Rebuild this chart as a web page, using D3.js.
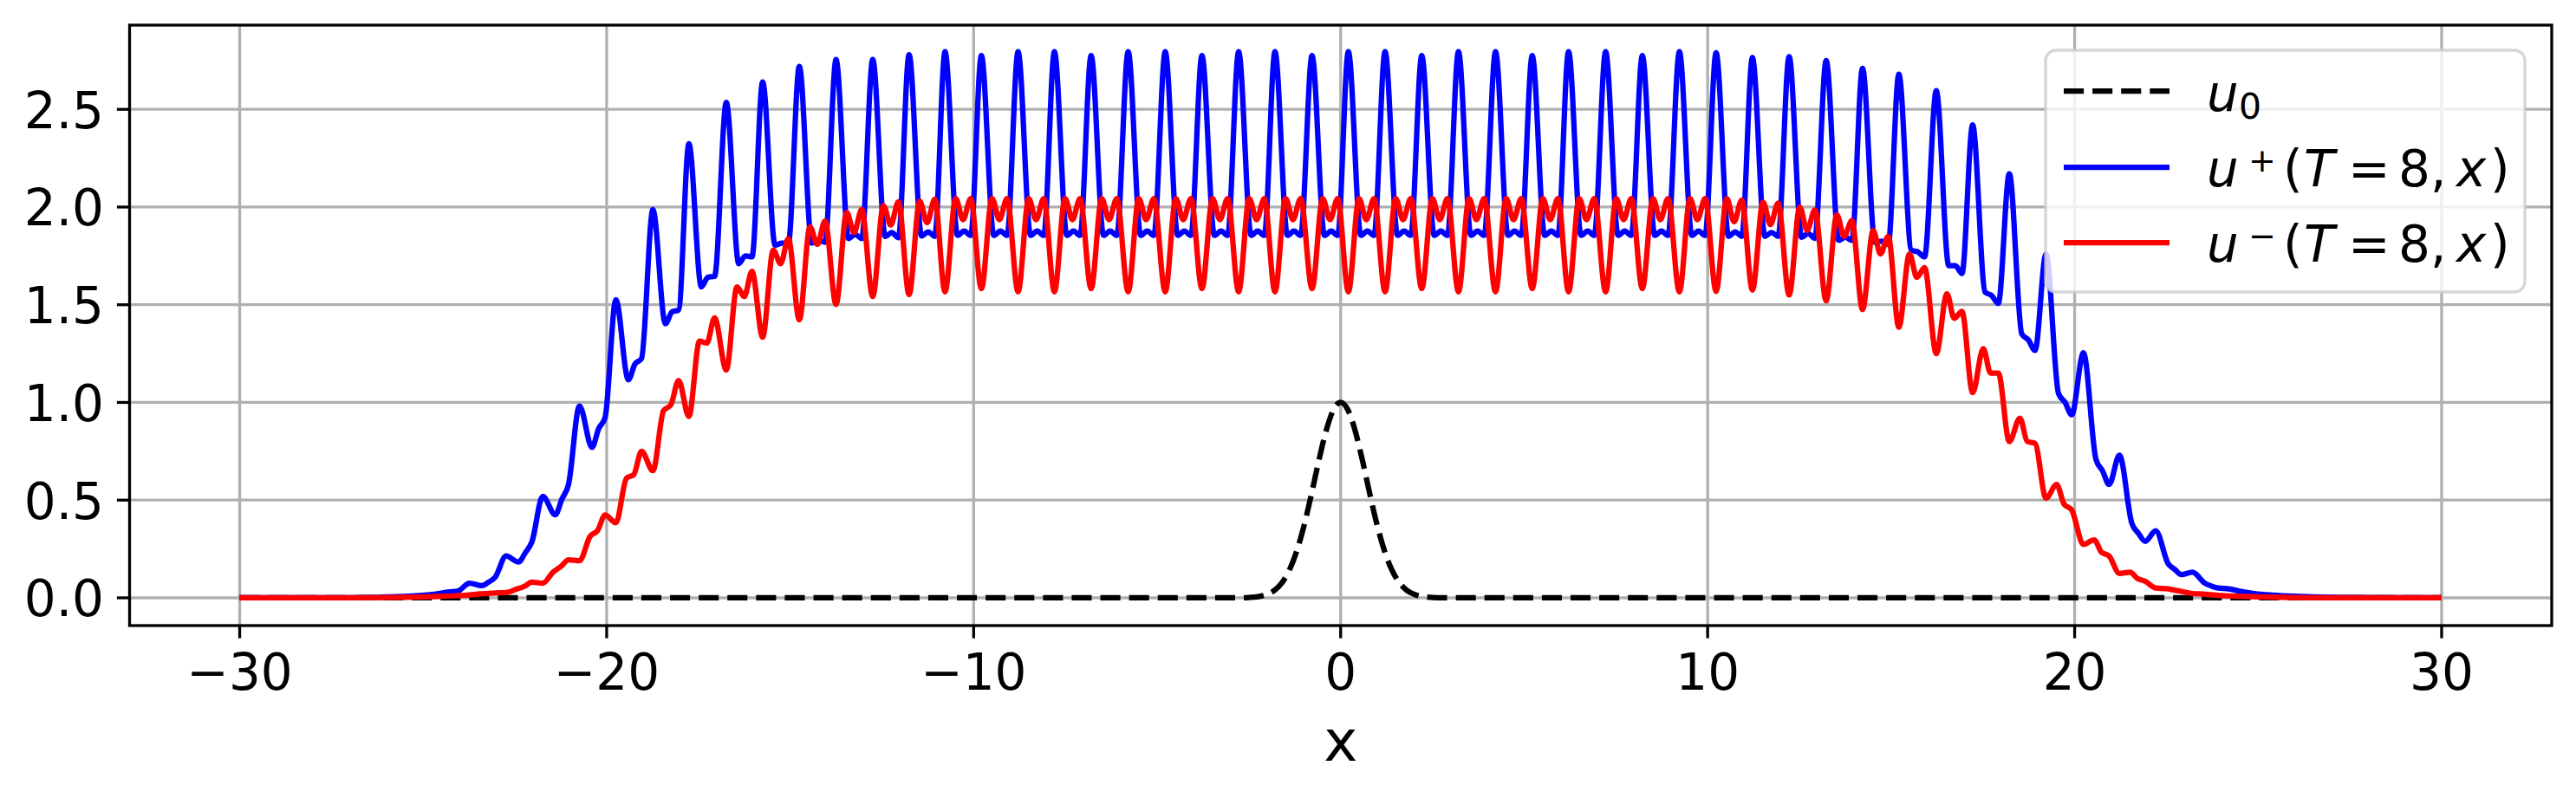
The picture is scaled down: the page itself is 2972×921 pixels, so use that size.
<!DOCTYPE html>
<html><head><meta charset="utf-8">
<script src="https://cdn.jsdelivr.net/npm/d3@7"></script>
<style>body{margin:0;background:#fff} svg{display:block}</style>
</head><body>
<svg id="chart" width="2972" height="921"></svg>
<script>
// ---------- data ----------
const xTicks = [-30, -20, -10, 0, 10, 20, 30];
const yTicks = [0, 0.5, 1.0, 1.5, 2.0, 2.5];

// initial datum u0
const u0X = [-30, -2.8, -2.5, -2.25, -2.0, -1.8, -1.6, -1.4, -1.2, -1.0, -0.8, -0.6, -0.4, -0.2, 0, 0.2, 0.4, 0.6, 0.8, 1.0, 1.2, 1.4, 1.6, 1.8, 2.0, 2.25, 2.5, 2.8, 30];
const u0Y = [0, 0, 0.002, 0.006, 0.018, 0.039, 0.077, 0.141, 0.237, 0.368, 0.527, 0.698, 0.852, 0.961, 1.0, 0.961, 0.852, 0.698, 0.527, 0.368, 0.237, 0.141, 0.077, 0.039, 0.018, 0.006, 0.002, 0, 0];

// x positions of each oscillation period (blue peak / red trough)
const periodX = [-23.74, -22.74, -21.74, -20.74, -19.75, -18.74, -17.76, -16.74, -15.75, -14.75, -13.75, -12.75,
  -11.76, -10.78, -9.79, -8.79, -7.8, -6.8, -5.79, -4.78, -3.78, -2.78, -1.79, -0.78,
  0.21, 1.21, 2.21, 3.21, 4.22, 5.22, 6.21, 7.22, 8.22, 9.23, 10.23, 11.22,
  12.22, 13.23, 14.22, 15.21, 16.23, 17.22, 18.22, 19.22, 20.24, 21.22, 22.21, 23.21];

// u+ : peak, first dip, small bump, second dip in each period
const blueOffsets = [0, 0.34, 0.52, 0.70];
const bluePeak = [0.075, 0.214, 0.519, 0.982, 1.526, 1.987, 2.324, 2.536, 2.64, 2.72, 2.755, 2.755,
  2.78, 2.795, 2.775, 2.795, 2.795, 2.775, 2.795, 2.795, 2.775, 2.795, 2.795, 2.775,
  2.795, 2.795, 2.775, 2.795, 2.795, 2.775, 2.795, 2.795, 2.775, 2.795, 2.79, 2.765,
  2.77, 2.75, 2.71, 2.68, 2.596, 2.42, 2.17, 1.76, 1.254, 0.73, 0.343, 0.131];
const blueDipA = [0.062, 0.183, 0.425, 0.77, 1.116, 1.403, 1.591, 1.71, 1.805, 1.815, 1.839, 1.849,
  1.852, 1.855, 1.855, 1.855, 1.855, 1.855, 1.855, 1.855, 1.855, 1.855, 1.855, 1.855,
  1.855, 1.855, 1.855, 1.855, 1.855, 1.855, 1.855, 1.855, 1.855, 1.855, 1.85, 1.85,
  1.845, 1.83, 1.82, 1.78, 1.70, 1.565, 1.35, 1.046, 0.709, 0.38, 0.174, 0.075];
const blueBump = [0.08, 0.23, 0.505, 0.865, 1.196, 1.463, 1.641, 1.75, 1.815, 1.83, 1.859, 1.869,
  1.873, 1.877, 1.877, 1.877, 1.877, 1.877, 1.877, 1.877, 1.877, 1.877, 1.877, 1.877,
  1.877, 1.877, 1.877, 1.877, 1.877, 1.877, 1.877, 1.877, 1.877, 1.877, 1.873, 1.87,
  1.865, 1.845, 1.825, 1.77, 1.70, 1.547, 1.32, 1.0, 0.65, 0.33, 0.145, 0.06];
const blueDipB = [0.105, 0.285, 0.58, 0.925, 1.225, 1.473, 1.645, 1.745, 1.815, 1.82, 1.839, 1.843,
  1.85, 1.855, 1.855, 1.855, 1.855, 1.855, 1.855, 1.855, 1.855, 1.855, 1.855, 1.855,
  1.855, 1.855, 1.855, 1.855, 1.855, 1.855, 1.855, 1.855, 1.855, 1.855, 1.85, 1.85,
  1.84, 1.83, 1.81, 1.745, 1.66, 1.507, 1.266, 0.937, 0.58, 0.289, 0.119, 0.05];
const blueTailLeftX = [-30, -27, -26.2, -25.4, -24.7, -24.3, -24.05];
const blueTailLeftY = [0, 0.001, 0.003, 0.008, 0.018, 0.03, 0.035];
const blueTailRightX = [24.2, 24.5, 24.9, 25.4, 26, 27, 30];
const blueTailRightY = [0.046, 0.034, 0.022, 0.014, 0.008, 0.003, 0];

// u- : trough, first peak, dip, second peak in each period
const redOffsets = [0, 0.29, 0.49, 0.70];
const redTrough = [0.015, 0.027, 0.075, 0.19, 0.384, 0.651, 0.928, 1.166, 1.334, 1.423, 1.502, 1.542,
  1.552, 1.566, 1.582, 1.566, 1.566, 1.582, 1.566, 1.566, 1.582, 1.566, 1.566, 1.582,
  1.566, 1.566, 1.582, 1.566, 1.566, 1.582, 1.566, 1.566, 1.582, 1.566, 1.568, 1.575,
  1.55, 1.52, 1.475, 1.385, 1.25, 1.05, 0.80, 0.51, 0.273, 0.125, 0.05, 0.022];
const redPeakA = [0.02, 0.045, 0.134, 0.315, 0.612, 0.958, 1.314, 1.591, 1.78, 1.898, 1.973, 2.007,
  2.03, 2.044, 2.044, 2.044, 2.044, 2.044, 2.044, 2.044, 2.044, 2.044, 2.044, 2.044,
  2.044, 2.044, 2.044, 2.044, 2.044, 2.044, 2.044, 2.044, 2.044, 2.044, 2.044, 2.025,
  2.0, 1.96, 1.88, 1.76, 1.556, 1.275, 0.92, 0.58, 0.297, 0.131, 0.047, 0.019];
const redDip = [0.022, 0.058, 0.16, 0.344, 0.631, 0.988, 1.304, 1.542, 1.71, 1.809, 1.869, 1.908,
  1.92, 1.935, 1.935, 1.935, 1.935, 1.935, 1.935, 1.935, 1.935, 1.935, 1.935, 1.935,
  1.935, 1.935, 1.935, 1.935, 1.935, 1.935, 1.935, 1.935, 1.935, 1.935, 1.925, 1.91,
  1.88, 1.85, 1.76, 1.64, 1.43, 1.15, 0.80, 0.48, 0.234, 0.099, 0.04, 0.016];
const redPeakB = [0.025, 0.08, 0.195, 0.424, 0.75, 1.112, 1.433, 1.671, 1.839, 1.928, 1.987, 2.027,
  2.04, 2.044, 2.044, 2.044, 2.044, 2.044, 2.044, 2.044, 2.044, 2.044, 2.044, 2.044,
  2.044, 2.044, 2.044, 2.044, 2.044, 2.044, 2.044, 2.044, 2.044, 2.044, 2.036, 2.02,
  1.985, 1.93, 1.85, 1.69, 1.466, 1.15, 0.79, 0.45, 0.214, 0.085, 0.033, 0.013];
const redTailLeftX = [-30, -27, -25.5, -24.63, -24.1];
const redTailLeftY = [0, 0.0005, 0.003, 0.007, 0.011];
const redTailRightX = [24.5, 25.3, 26.5, 30];
const redTailRightY = [0.008, 0.004, 0.001, 0];

const legendLabels = ["u0", "u+(T=8,x)", "u-(T=8,x)"];

// ---------- build series ----------
function buildSeries(tlx, tly, offsets, feats, trx, try_) {
  const pts = tlx.map((v, i) => [v, tly[i]]);
  periodX.forEach((p, k) => {
    offsets.forEach((o, j) => pts.push([p + o, feats[j][k]]));
  });
  trx.forEach((v, i) => pts.push([v, try_[i]]));
  return pts;
}
const blueData = buildSeries(blueTailLeftX, blueTailLeftY, blueOffsets, [bluePeak, blueDipA, blueBump, blueDipB], blueTailRightX, blueTailRightY);
const redData = buildSeries(redTailLeftX, redTailLeftY, redOffsets, [redTrough, redPeakA, redDip, redPeakB], redTailRightX, redTailRightY);
const u0Data = u0X.map((v, i) => [v, u0Y[i]]);

// ---------- drawing ----------
const svg = d3.select("#chart");
const L = 149.5, R = 2944, T = 29, B = 722;
const x = d3.scaleLinear().domain([-33, 33]).range([L, R]);
const y = d3.scaleLinear().domain([-0.142, 2.931]).range([B, T]);
const FONT = "DejaVu Sans";
const minus = s => s.replace("-", "\u2212");

svg.append("rect").attr("width", 2972).attr("height", 921).attr("fill", "#fff");

// grid
const grid = svg.append("g").attr("stroke", "#b0b0b0").attr("stroke-width", 3.3);
xTicks.forEach(t => grid.append("line").attr("x1", x(t)).attr("x2", x(t)).attr("y1", T).attr("y2", B));
yTicks.forEach(t => grid.append("line").attr("x1", L).attr("x2", R).attr("y1", y(t)).attr("y2", y(t)));

// lines
svg.append("clipPath").attr("id", "clip").append("rect").attr("x", L).attr("y", T).attr("width", R - L).attr("height", B - T);
const line = d3.line().x(d => x(d[0])).y(d => y(d[1])).curve(d3.curveMonotoneX);
const plot = svg.append("g").attr("clip-path", "url(#clip)");
plot.append("path").attr("d", line(u0Data)).attr("fill", "none").attr("stroke", "#000").attr("stroke-width", 6.25).attr("stroke-dasharray", "23.1,10");
plot.append("path").attr("d", line(blueData)).attr("fill", "none").attr("stroke", "#0000ff").attr("stroke-width", 6.25).attr("stroke-linejoin", "round");
plot.append("path").attr("d", line(redData)).attr("fill", "none").attr("stroke", "#ff0000").attr("stroke-width", 6.25).attr("stroke-linejoin", "round");

// spines
svg.append("rect").attr("x", L).attr("y", T).attr("width", R - L).attr("height", B - T)
  .attr("fill", "none").attr("stroke", "#000").attr("stroke-width", 3.3);

// ticks & labels
const tk = svg.append("g");
xTicks.forEach(t => {
  tk.append("line").attr("x1", x(t)).attr("x2", x(t)).attr("y1", B).attr("y2", B + 14.6).attr("stroke", "#000").attr("stroke-width", 3.3);
  tk.append("text").attr("x", x(t)).attr("y", 796).attr("text-anchor", "middle")
    .attr("font-family", FONT).attr("font-size", 58).text(minus(String(t)));
});
yTicks.forEach(t => {
  tk.append("line").attr("x1", L - 14.6).attr("x2", L).attr("y1", y(t)).attr("y2", y(t)).attr("stroke", "#000").attr("stroke-width", 3.3);
  tk.append("text").attr("x", 120).attr("y", y(t) + 21.5).attr("text-anchor", "end")
    .attr("font-family", FONT).attr("font-size", 58).text(d3.format(".1f")(t));
});
svg.append("text").attr("x", x(0)).attr("y", 878).attr("text-anchor", "middle")
  .attr("font-family", FONT).attr("font-size", 66).text("x");

// legend
const lg = svg.append("g");
lg.append("rect").attr("x", 2360).attr("y", 58).attr("width", 553).attr("height", 279).attr("rx", 12)
  .attr("fill", "#fff").attr("fill-opacity", 0.8).attr("stroke", "#cccccc").attr("stroke-opacity", 0.8).attr("stroke-width", 3.3);
const rows = [
  {color: "#000", dash: "23.1,10", ly: 105, base: 128},
  {color: "#0000ff", dash: null, ly: 193, base: 215},
  {color: "#ff0000", dash: null, ly: 280, base: 302}
];
rows.forEach(r => {
  const l = lg.append("line").attr("x1", 2381).attr("x2", 2503).attr("y1", r.ly).attr("y2", r.ly)
    .attr("stroke", r.color).attr("stroke-width", 6.25);
  if (r.dash) l.attr("stroke-dasharray", r.dash);
});
function addTspan(t, s, gx, gy, size, italic) {
  t.append("tspan").attr("x", gx).attr("y", gy).attr("font-size", size)
    .attr("font-style", italic ? "italic" : "normal").text(s);
}
// row 1: u_0
const t0 = lg.append("text").attr("font-family", FONT).attr("aria-label", legendLabels[0]);
addTspan(t0, "u", 2546, rows[0].base, 58, true);
addTspan(t0, "0", 2583, rows[0].base + 9, 41, false);
// rows 2 & 3: u^{+/-}(T=8,x)
[["+", rows[1].base, legendLabels[1]], ["\u2212", rows[2].base, legendLabels[2]]].forEach(([sgn, b, lab]) => {
  const t = lg.append("text").attr("font-family", FONT).attr("aria-label", lab);
  addTspan(t, "u", 2546, b, 58, true);
  addTspan(t, sgn, 2594, b - 17, 38, false);
  addTspan(t, "(", 2634, b, 58, false);
  addTspan(t, "T", 2658, b, 58, true);
  addTspan(t, "=", 2709, b, 58, false);
  addTspan(t, "8", 2767, b, 58, false);
  addTspan(t, ",", 2804, b, 58, false);
  addTspan(t, "x", 2834, b, 58, true);
  addTspan(t, ")", 2873, b, 58, false);
});
</script>
</body></html>
